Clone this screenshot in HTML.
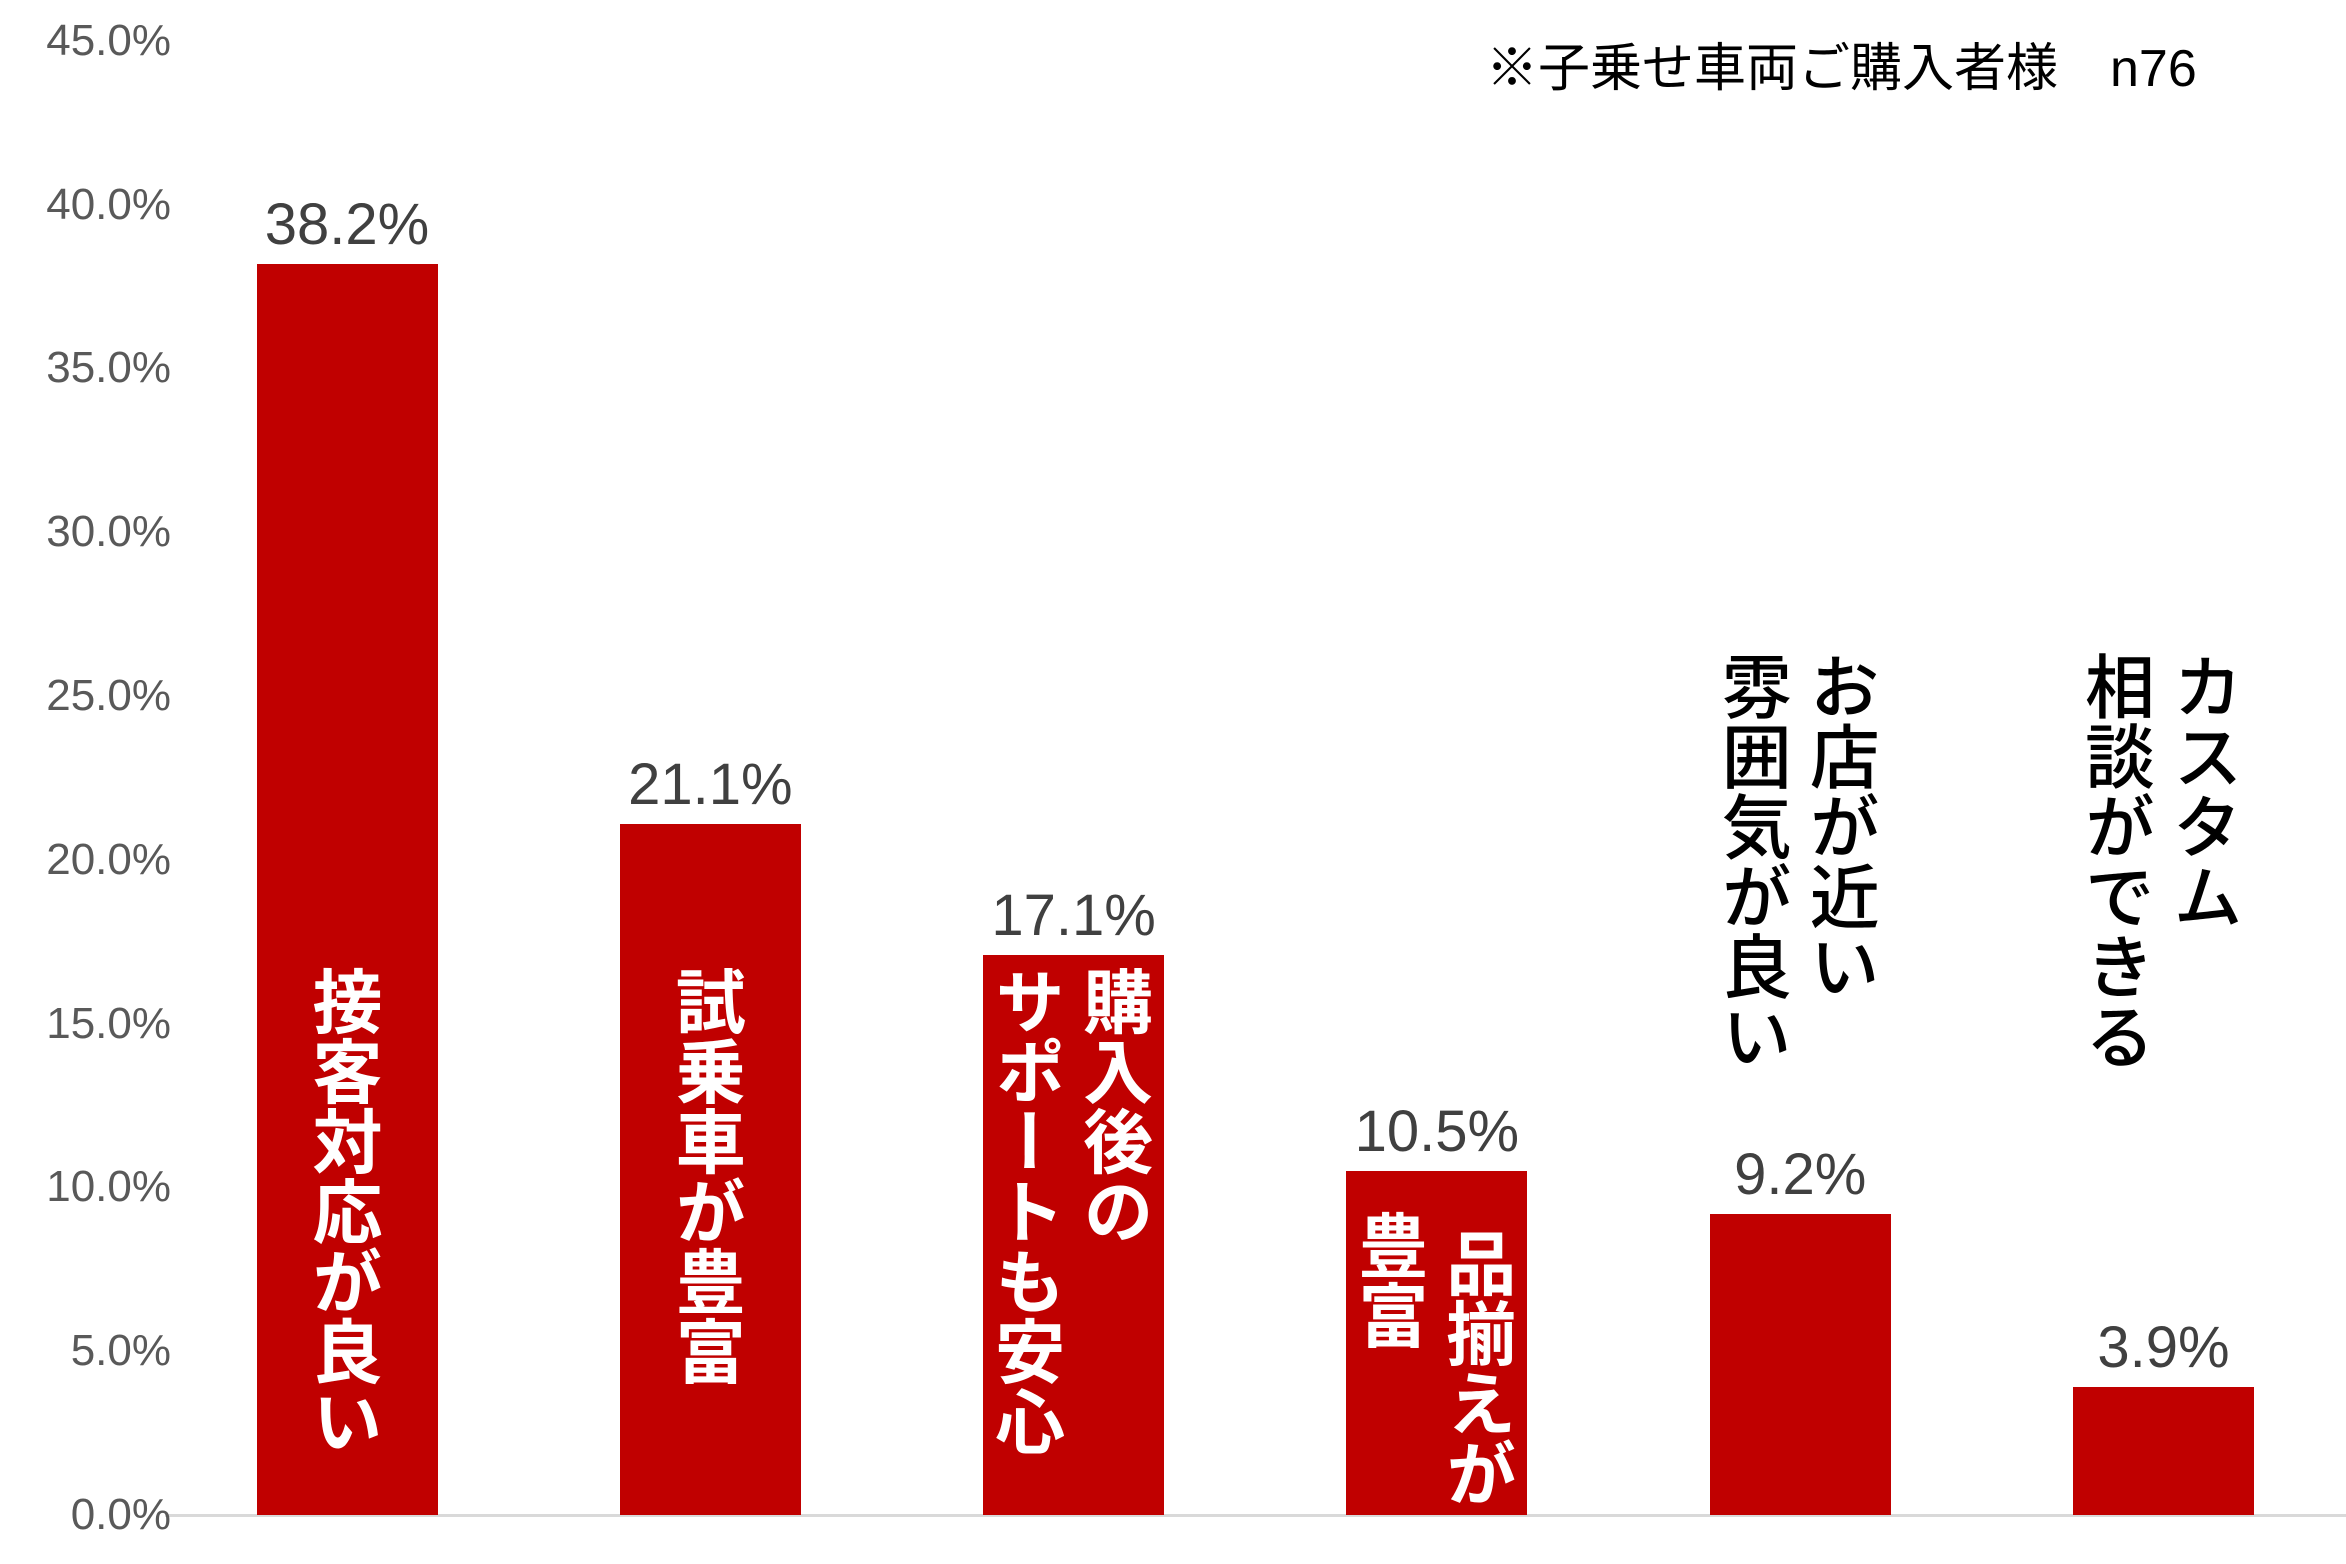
<!DOCTYPE html>
<html><head><meta charset="utf-8"><style>
html,body{margin:0;padding:0;background:#fff;}
#c{position:relative;width:2346px;height:1564px;overflow:hidden;font-family:"Liberation Sans","Noto Sans CJK JP",sans-serif;}
.tick{position:absolute;right:2175px;font-size:44px;color:#595959;line-height:1;transform:translateY(-50%);}
.val{position:absolute;font-size:58px;color:#404040;line-height:1;transform:translateX(-50%);white-space:nowrap;}
.bar{position:absolute;background:#c00000;}
.col{position:absolute;writing-mode:vertical-rl;font-family:"Noto Sans CJK JP",sans-serif;font-size:70px;line-height:1;transform:translateX(-50%);white-space:nowrap;}
</style></head><body>
<div id="c">
<div style="position:absolute;left:1486px;top:26px;font-size:52px;color:#000;font-family:'Liberation Sans','Noto Sans CJK JP',sans-serif;white-space:nowrap;">※子乗せ車両ご購入者様　n76</div>
<div style="position:absolute;left:165px;top:1514px;width:2181px;height:3px;background:#d9d9d9;"></div>
</div>
<script>
const categories=[["接客対応が良い"],["試乗車が豊富"],["購入後の","サポートも安心"],["品揃えが","豊富"],["お店が近い","雰囲気が良い"],["カスタム","相談ができる"]];
const values=[38.2,21.1,17.1,10.5,9.2,3.9];
const valueLabels=["38.2%","21.1%","17.1%","10.5%","9.2%","3.9%"];
const tickValues=[0,5,10,15,20,25,30,35,40,45];
const tickLabels=["0.0%","5.0%","10.0%","15.0%","20.0%","25.0%","30.0%","35.0%","40.0%","45.0%"];
const labelInside=[true,true,true,true,false,false];
const c=document.getElementById('c');
const y0=1515, pxPer=163.8/5;
function yScale(v){return y0-v*pxPer;}
function xCenter(i){return 347+i*363.3;}
const barW=181;
tickValues.forEach((t,i)=>{
  const d=document.createElement('div');
  
  
  d.className='tick';d.style.top=yScale(t)+'px';d.textContent=tickLabels[i];c.appendChild(d);
});
values.forEach((v,i)=>{
  const b=document.createElement('div');
  
  
  b.className='bar';
  b.style.left=(xCenter(i)-barW/2)+'px';b.style.top=yScale(v)+'px';b.style.width=barW+'px';b.style.height=(y0-yScale(v))+'px';
  c.appendChild(b);
  const t=document.createElement('div');
  
  
  t.className='val';t.style.left=xCenter(i)+'px';t.style.top=(yScale(v)-68)+'px';t.textContent=valueLabels[i];
  c.appendChild(t);
  const cols=categories[i];
  const inside=labelInside[i];
  let top=inside?966:651;
  if(i===3)top=1210;
  cols.forEach((s,k)=>{
    const d=document.createElement('div');
    
    
    d.className='col';
    const off=cols.length===1?0:(k===0?44:-44);
    d.style.left=(xCenter(i)+off)+'px';
    d.style.top=(top+(i===3&&k===0?18:0))+'px';
    d.style.color=inside?'#fff':'#000';
    d.style.fontWeight=inside?'700':'500';
    d.textContent=s;
    c.appendChild(d);
  });
});
</script>
</body></html>
